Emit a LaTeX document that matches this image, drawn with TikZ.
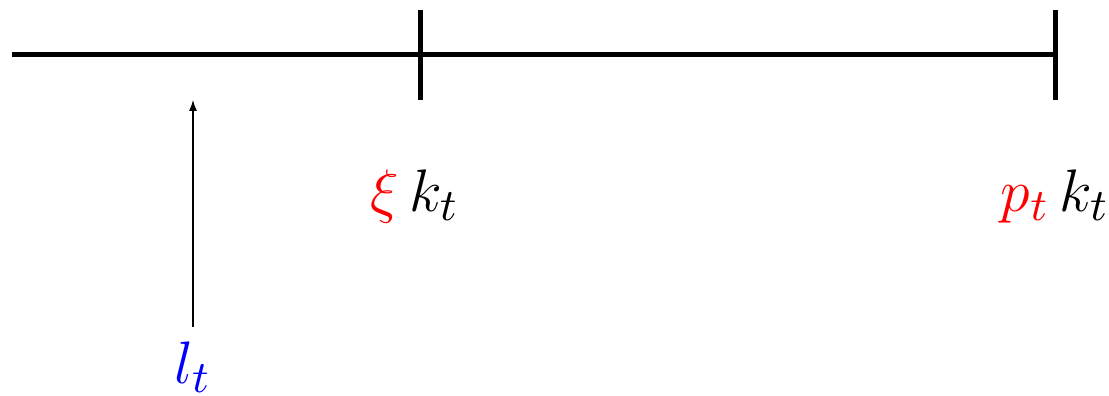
\documentclass[tikz,border=0pt]{standalone}
\usetikzlibrary{arrows.meta}
\begin{document}
\begin{tikzpicture}[x=0.2pt,y=-0.2pt,
  bar/.style={line width=1pt},
  lbl/.style={anchor=base,inner sep=0pt,font=\fontsize{12.4}{14}\selectfont}]
\useasboundingbox (0,0) rectangle (1109,396);
\coordinate (L) at (12,55);
\coordinate (M) at (420,55);
\coordinate (R) at (1055,55);
\coordinate (Mt) at (420,10);
\coordinate (Mb) at (420,100);
\coordinate (Rt) at (1055,10);
\coordinate (Rb) at (1055,100);
\draw[bar] (L) -- (R);
\draw[bar] (Mt) -- (Mb);
\draw[bar] (Rt) -- (Rb);
\node[lbl] (xi) at (415,212) {$\color{red}\xi\,\color{black}k_t$};
\node[lbl] (pk) at (1055,212) {$\color{red}p_t\,\color{black}k_t$};
\node[lbl] (l) at (193,384) {$\color{blue}l_t$};
\coordinate (as) at (193,327);
\coordinate (ae) at (193,100);
\draw[line width=0.25pt,-{Latex[length=2.2pt,width=1.6pt]}] (as) -- (ae);
\end{tikzpicture}
\end{document}
